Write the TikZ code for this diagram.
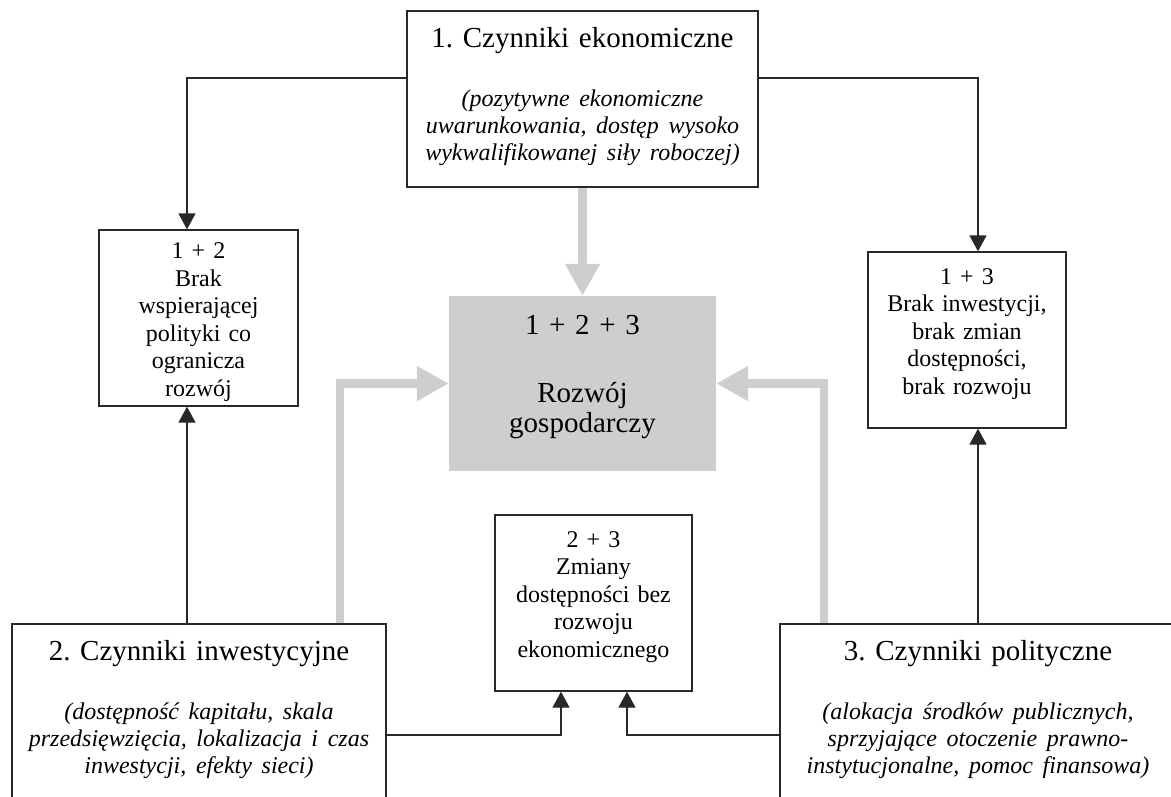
\documentclass[tikz,border=0pt]{standalone}
\usepackage{fontspec}
\setmainfont{Liberation Serif}
\setlength{\parindent}{0pt}
\setlength{\parskip}{0pt}
\frenchspacing
\usetikzlibrary{arrows.meta}
\definecolor{lgray}{RGB}{206,206,206}
\definecolor{lineclr}{RGB}{40,40,40}
\newcommand{\dpstrut}[1]{\rule[-#1]{0pt}{1pt}}
\begin{document}
\begin{tikzpicture}[x=1pt,y=-1pt,
  box/.style={draw=lineclr, line width=1.3pt, fill=white, align=center, inner sep=0pt},
  factor/.style={box, minimum height=176pt, font=\fontsize{29}{34}\selectfont},
  combo/.style={box, font=\fontsize{24}{27.5}\selectfont},
  result/.style={fill=lgray, align=center, inner sep=0pt, font=\fontsize{29}{30}\selectfont},
  conn/.style={draw=lineclr, line width=1.3pt, -{Triangle[length=16pt,width=17pt]}},
  garr/.style={draw=lgray, line width=8.5pt, -{Triangle[length=32pt,width=33pt]}}
]
\useasboundingbox (0,0) rectangle (1171,796);

% factor boxes
\node[factor, minimum width=351pt, text width=345pt] (f1) at (582.5,99)
  {1. Czynniki ekonomiczne\par\vspace{32pt}{\itshape\fontsize{24}{27}\selectfont (pozytywne ekonomiczne\\uwarunkowania, dostęp wysoko\\wykwalifikowanej siły roboczej)\dpstrut{9.5pt}\par}};
\node[factor, minimum width=374pt, text width=368pt] (f2) at (199,712)
  {2. Czynniki inwestycyjne\par\vspace{32pt}{\itshape\fontsize{24}{27}\selectfont (dostępność kapitału, skala\\przedsięwzięcia, lokalizacja i czas\\inwestycji, efekty sieci)\dpstrut{9.5pt}\par}};
\node[factor, minimum width=396pt, text width=390pt] (f3) at (978,712)
  {3. Czynniki polityczne\par\vspace{32pt}{\itshape\fontsize{24}{27}\selectfont (alokacja środków publicznych,\\sprzyjające otoczenie prawno-\\instytucjonalne, pomoc finansowa)\dpstrut{9.5pt}\par}};

% combination boxes
\node[combo, minimum width=199pt, minimum height=176pt, text width=195pt] (b12) at (198.5,318)
  {\rule{0pt}{24pt}1 + 2\\Brak\\wspierającej\\polityki co\\ogranicza\\rozwój};
\node[combo, minimum width=198pt, minimum height=176pt, text width=194pt] (b13) at (967,340)
  {1 + 3\\Brak inwestycji,\\brak zmian\\dostępności,\\brak rozwoju\dpstrut{17pt}};
\node[combo, minimum width=197pt, minimum height=176pt, text width=193pt] (b23) at (593.5,603)
  {2 + 3\\Zmiany\\dostępności bez\\rozwoju\\ekonomicznego\dpstrut{17pt}};

% result box
\node[result, minimum width=267pt, minimum height=175pt, text width=262pt] (c) at (582.5,383.5)
  {1 + 2 + 3\\[38pt]Rozwój\\gospodarczy\dpstrut{20pt}};

% anchor points
\coordinate (p12t) at ([xshift=-11.5pt]b12.north);
\coordinate (p12b) at ([xshift=-11.5pt]b12.south);
\coordinate (p13t) at ([xshift=11pt]b13.north);
\coordinate (p13b) at ([xshift=11pt]b13.south);
\coordinate (p23l) at ([xshift=-32.5pt]b23.south);
\coordinate (p23r) at ([xshift=33.5pt]b23.south);
\coordinate (g2) at ([xshift=141pt]f2.north);
\coordinate (g3) at ([xshift=-154pt]f3.north);

% gray arrows
\draw[garr] (f1.south) -- (c.north);
\draw[garr] (g2) |- (c.west);
\draw[garr] (g3) |- (c.east);

% black connectors
\draw[conn] ([yshift=21pt]f1.west) -| (p12t);
\draw[conn] ([yshift=21pt]f1.east) -| (p13t);
\draw[conn] (p12b |- f2.north) -- (p12b);
\draw[conn] (p13b |- f3.north) -- (p13b);
\draw[conn] ([yshift=-23pt]f2.east) -| (p23l);
\draw[conn] ([yshift=-23pt]f3.west) -| (p23r);
\end{tikzpicture}
\end{document}
